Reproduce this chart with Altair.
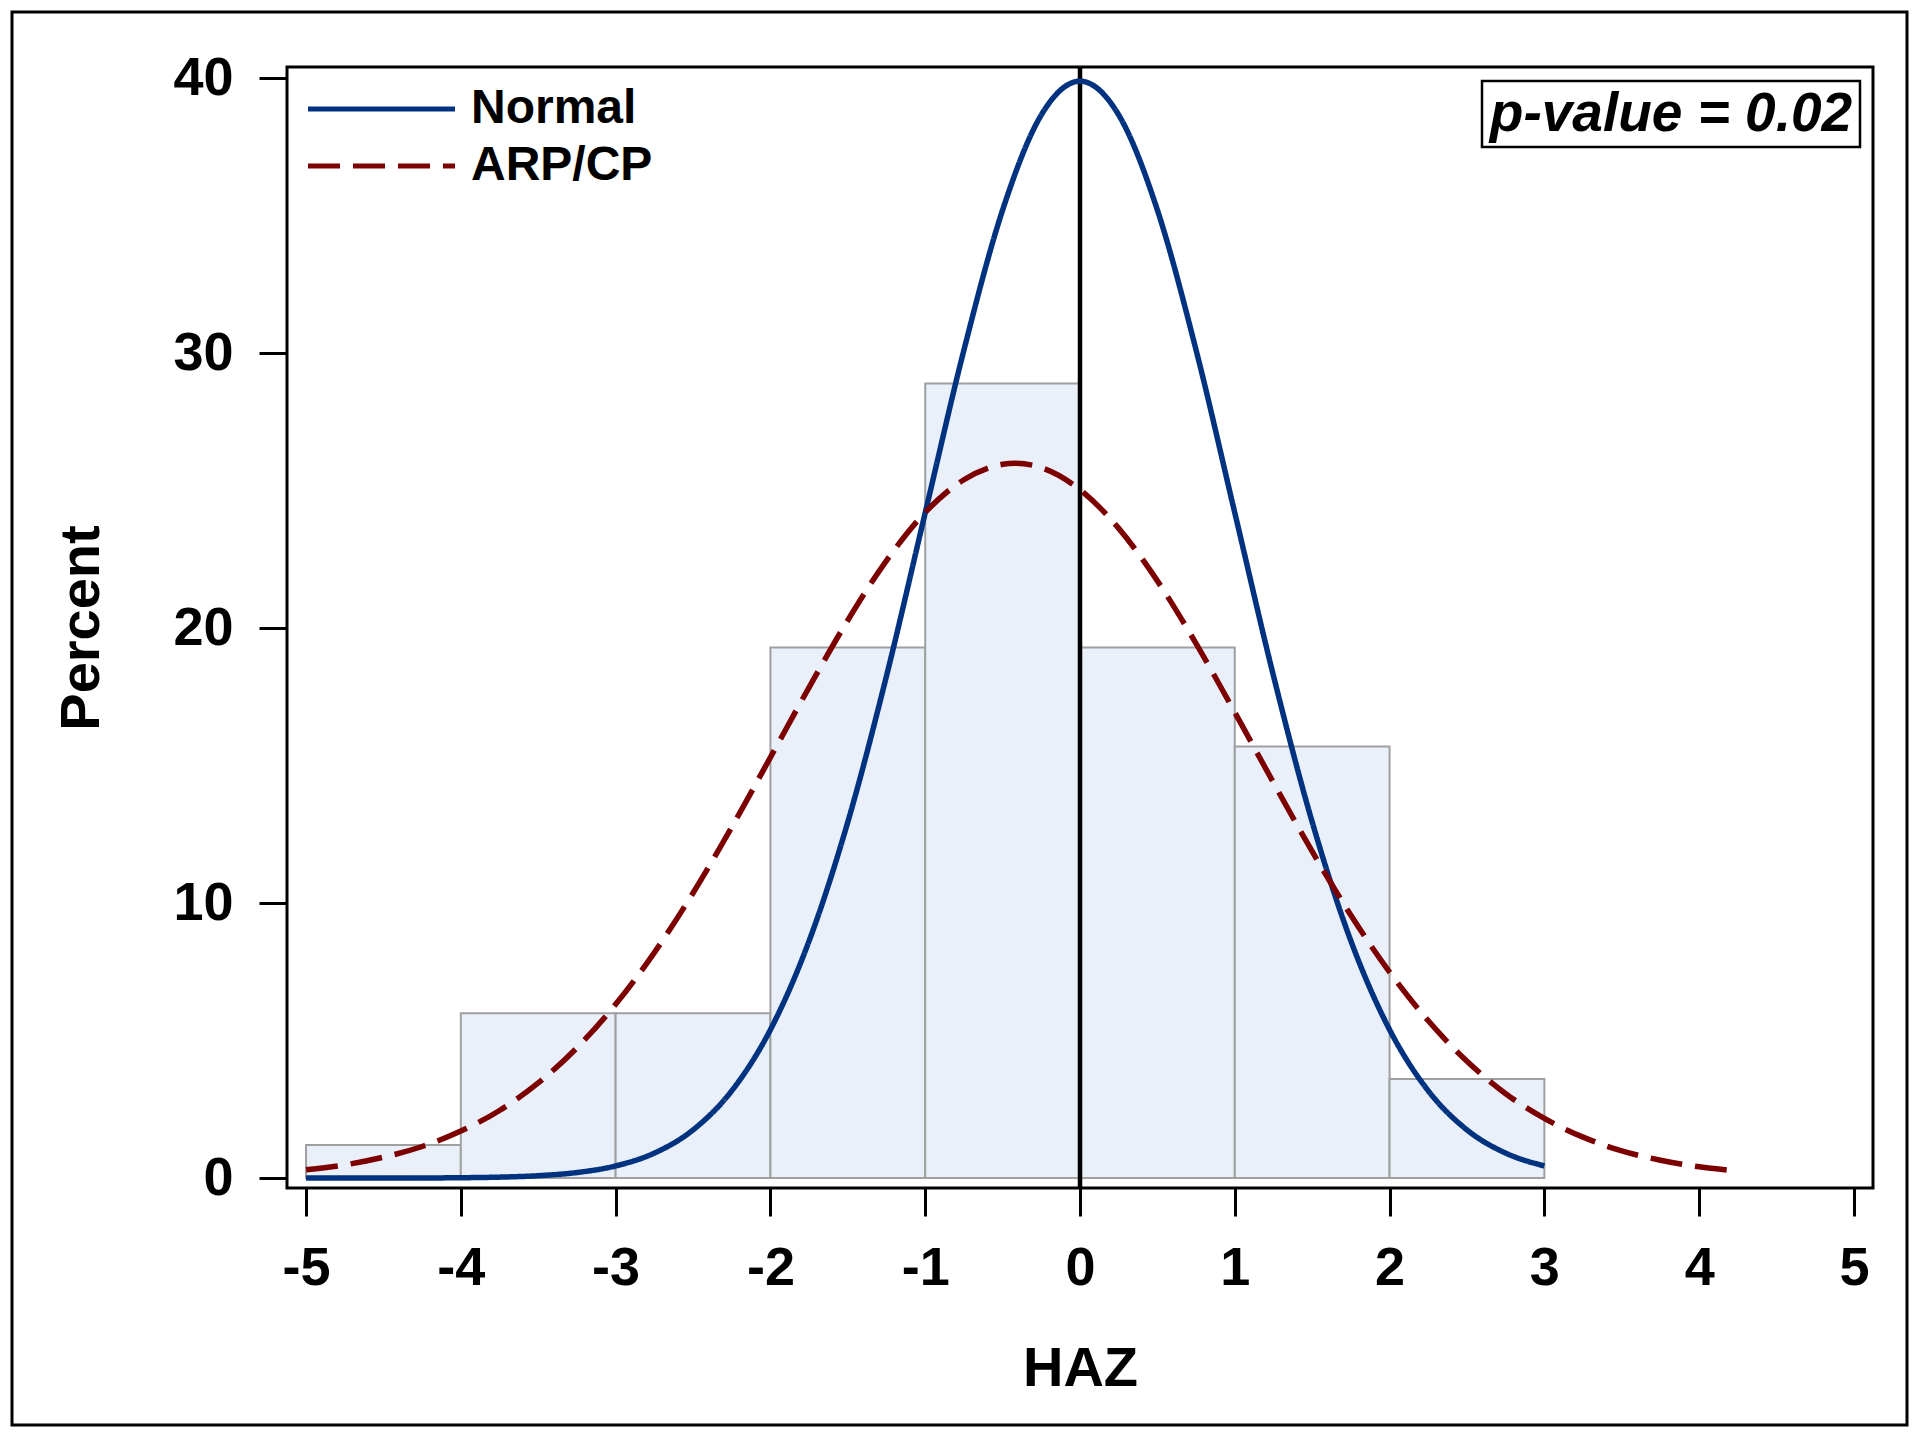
import altair as alt
import pandas as pd

# ---------------- data ----------------
bin_start = [-5, -4, -3, -2, -1, 0, 1, 2]
bin_end = [-4, -3, -2, -1, 0, 1, 2, 3]
percent = [1.2, 6.0, 6.0, 19.3, 28.9, 19.3, 15.7, 3.6]

normal_x = [-5.0, -4.75, -4.5, -4.25, -4.0, -3.75, -3.5, -3.25, -3.0, -2.75,
            -2.5, -2.25, -2.0, -1.75, -1.5, -1.25, -1.0, -0.75, -0.5, -0.25,
            0.0, 0.25, 0.5, 0.75, 1.0, 1.25, 1.5, 1.75, 2.0, 2.25, 2.5, 2.75, 3.0]
normal_y = [0.0001, 0.0005, 0.0016, 0.0047, 0.0134, 0.0353, 0.0873, 0.2029, 0.4432, 0.9094,
            1.7528, 3.1740, 5.3991, 8.6277, 12.9518, 18.2649, 24.1971, 30.1137, 35.2065, 38.6668,
            39.8942, 38.6668, 35.2065, 30.1137, 24.1971, 18.2649, 12.9518, 8.6277, 5.3991, 3.1740,
            1.7528, 0.9094, 0.4432]

arp_x = [-5.0, -4.75, -4.5, -4.25, -4.0, -3.75, -3.5, -3.25, -3.0, -2.75,
         -2.5, -2.25, -2.0, -1.75, -1.5, -1.25, -1.0, -0.75, -0.5, -0.42, -0.25,
         0.0, 0.25, 0.5, 0.75, 1.0, 1.25, 1.5, 1.75, 2.0, 2.25,
         2.5, 2.75, 3.0, 3.25, 3.5, 3.75, 4.0, 4.2]
arp_y = [0.30, 0.48, 0.76, 1.15, 1.71, 2.46, 3.46, 4.74, 6.32, 8.20,
         10.37, 12.76, 15.30, 17.85, 20.29, 22.46, 24.21, 25.40, 25.96, 26.00, 25.84,
         25.04, 23.63, 21.72, 19.44, 16.94, 14.38, 11.88, 9.56, 7.49, 5.72,
         4.25, 3.07, 2.17, 1.49, 0.99, 0.65, 0.41, 0.28]

series_names = ["Normal", "ARP/CP"]
series_colors = ["#00327f", "#7d0000"]
x_ticks = [-5, -4, -3, -2, -1, 0, 1, 2, 3, 4, 5]
y_ticks = [0, 10, 20, 30, 40]
ref_x = [0]
pvalue_label = ["p-value = 0.02"]

# ---------------- tables ----------------
hist_df = pd.DataFrame({"start": bin_start, "end": bin_end, "pct": percent})
curve_df = pd.concat([
    pd.DataFrame({"x": normal_x, "y": normal_y, "series": series_names[0]}),
    pd.DataFrame({"x": arp_x, "y": arp_y, "series": series_names[1]}),
], ignore_index=True)
ref_df = pd.DataFrame({"ref": ref_x})
note_df = pd.DataFrame({"label": pvalue_label})

W, H = 1586, 1121
FONT = "Liberation Sans"

x_scale = alt.Scale(domain=[-5.123, 5.123], nice=False, zero=False)
y_scale = alt.Scale(domain=[-0.36, 40.41], nice=False, zero=False)

x_axis = alt.Axis(values=x_ticks, title="HAZ", labelExpr="'' + datum.value",
                  labelPadding=25, titlePadding=46)
y_axis = alt.Axis(values=y_ticks, title="Percent", labelExpr="'' + datum.value",
                  labelPadding=26, titlePadding=62)

bars = alt.Chart(hist_df).mark_bar(fill="#e9f0f9", stroke="#a0a0a0", strokeWidth=2).encode(
    x=alt.X("start:Q", scale=x_scale, axis=x_axis),
    x2="end:Q",
    y=alt.Y("pct:Q", scale=y_scale, axis=y_axis),
    y2=alt.datum(0),
)

ref = alt.Chart(ref_df).mark_rule(color="black", strokeWidth=4.5).encode(
    x=alt.X("ref:Q", scale=x_scale)
)

# long horizontal stroke symbol drawn from a small symbol size, so rows stay compact
legend = alt.Legend(title=None, orient="none", legendX=17, legendY=18,
                    symbolType="M-1,0H6.35", symbolSize=1600, symbolStrokeWidth=5,
                    labelFont=FONT, labelFontSize=48, labelFontWeight="bold",
                    labelColor="black", labelOffset=119, labelLimit=500,
                    rowPadding=9, padding=0)

curves = alt.Chart(curve_df).mark_line(strokeWidth=5.5, interpolate="monotone").encode(
    x=alt.X("x:Q", scale=x_scale),
    y=alt.Y("y:Q", scale=y_scale),
    color=alt.Color("series:N", scale=alt.Scale(domain=series_names, range=series_colors),
                    legend=legend),
    strokeDash=alt.StrokeDash("series:N",
                              scale=alt.Scale(domain=series_names, range=[[1, 0], [32, 13]]),
                              legend=legend),
)

note_box = alt.Chart(note_df).mark_rect(fillOpacity=0, stroke="black", strokeWidth=2.5).encode(
    x=alt.value(1195), x2=alt.value(1573), y=alt.value(14), y2=alt.value(80)
)
note_text = alt.Chart(note_df).mark_text(
    font=FONT, fontSize=55, fontWeight="bold", fontStyle="italic",
    align="center", baseline="alphabetic", color="black"
).encode(x=alt.value(1384), y=alt.value(64), text="label:N")

outer = alt.Chart(note_df).mark_rect(fillOpacity=0, stroke="black", strokeWidth=3).encode(
    x=alt.value(-275), x2=alt.value(1620), y=alt.value(-55), y2=alt.value(1358)
)

chart = alt.layer(bars, ref, curves, note_box, note_text, outer).properties(
    width=W, height=H,
    autosize=alt.AutoSizeParams(type="none"),
    padding={"left": 279, "top": 59, "right": 36, "bottom": 239},
    background="white",
).configure_view(
    stroke="black", strokeWidth=3
).configure_axis(
    grid=False, domain=False, tickColor="black", tickWidth=3, tickSize=28,
    labelFont=FONT, labelFontSize=54, labelFontWeight="bold", labelColor="black",
    titleFont=FONT, titleFontSize=56, titleFontWeight="bold", titleColor="black",
)

chart.save("out.html", embed_options={"renderer": "svg", "actions": False})
